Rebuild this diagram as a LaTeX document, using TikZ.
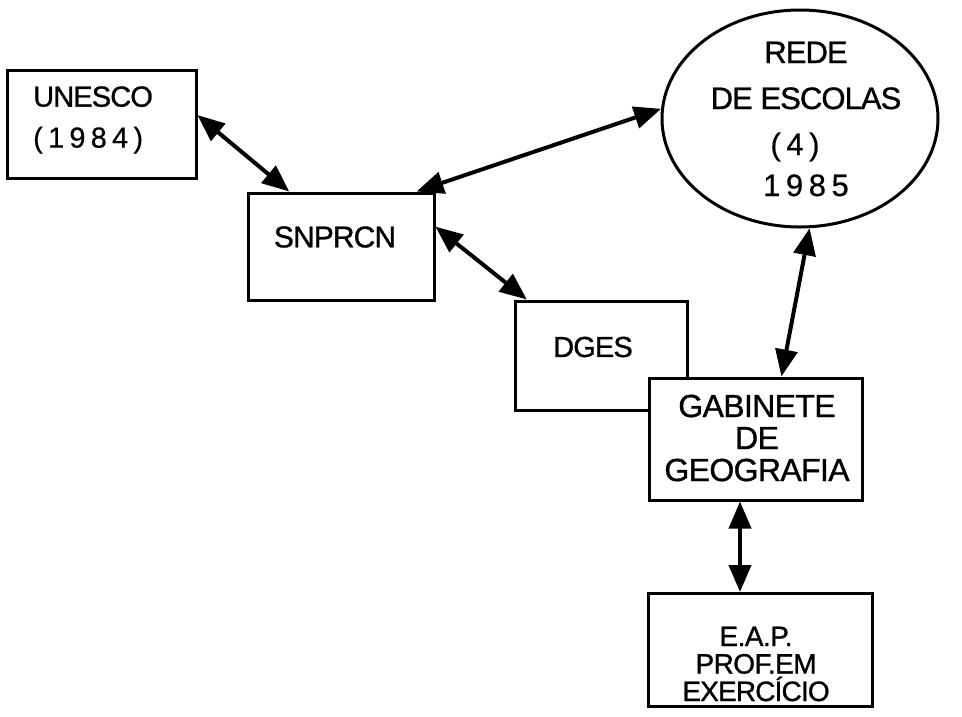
\documentclass[tikz,border=0pt]{standalone}
\usepackage{fontspec}
\setmainfont{Liberation Sans}
\newfontfamily\wordfont[LetterSpace=-3,FakeBold=1]{Liberation Sans}
\newfontfamily\gabfont[LetterSpace=-2,FakeBold=1]{Liberation Sans}
\newfontfamily\numfont[LetterSpace=18,FakeBold=0.5]{Liberation Sans}
\usetikzlibrary{arrows.meta,calc,shapes.geometric}
\begin{document}
\begin{tikzpicture}[x=1pt,y=-1pt,
  box/.style={draw,line width=3pt,inner sep=0pt},
  lbl/.style={inner sep=0pt,align=center},
  link/.style={line width=4pt,{Triangle[length=27pt,width=22pt]}-{Triangle[length=27pt,width=22pt]}}]
\useasboundingbox (0,0) rectangle (962,716);
% boxes
\node[box,minimum width=189pt,minimum height=108pt] (unesco) at (101.5,124) {};
\node[box,minimum width=186pt,minimum height=107pt] (snprcn) at (341,246.5) {};
\node[box,ellipse,minimum width=276pt,minimum height=217pt] (rede) at (800,118.5) {};
\node[box,minimum width=172pt,minimum height=109pt] (dges) at (601,355.5) {};
\node[box,fill=white,minimum width=213pt,minimum height=122pt] (gab) at (755.5,439) {};
\node[box,minimum width=224pt,minimum height=113pt] (eap) at (760,650) {};
% texts
\node[lbl,anchor=west,align=left,font=\fontsize{29}{41}\selectfont] (unescot) at (33,120) {\wordfont UNESCO\\\numfont (1984)};
\node[lbl,font=\fontsize{30}{34}\selectfont] (snprcnt) at (335,237) {\wordfont SNPRCN};
\node[lbl,font=\fontsize{31}{46}\selectfont] (redet) at (806,119) {\wordfont REDE\\\wordfont DE ESCOLAS\\\numfont (4)\rule{22pt}{0pt}\\[-5pt]\numfont 1985};
\node[lbl,font=\fontsize{29}{34}\selectfont] (dgest) at (593,347) {\wordfont DGES};
\node[lbl,font=\fontsize{32}{32}\selectfont] (gabt) at (757,438) {\gabfont GABINETE\\\gabfont DE\\\gabfont GEOGRAFIA};
\node[lbl,font=\fontsize{28}{27.5}\selectfont] (eapt) at (756,664) {\gabfont E.A.P.\\\gabfont PROF.EM\\\wordfont EXERCÍCIO};
% connectors
\draw[link] ($(unesco.north east)!0.42!(unesco.south east)$) -- ($(snprcn.north west)!0.226!(snprcn.north east)$);
\draw[link] ($(snprcn.north west)!0.9!(snprcn.north east)$) -- (rede.176);
\draw[link] ($(snprcn.north east)!0.32!(snprcn.south east)$) -- ($(dges.north west)!0.076!(dges.north east)$);
\draw[link] (rede.275) -- ($(gab.north west)!0.62!(gab.north east)$);
\draw[link] ([xshift=-15.5pt]gab.south) -- ([xshift=-20pt]eap.north);
\end{tikzpicture}
\end{document}
